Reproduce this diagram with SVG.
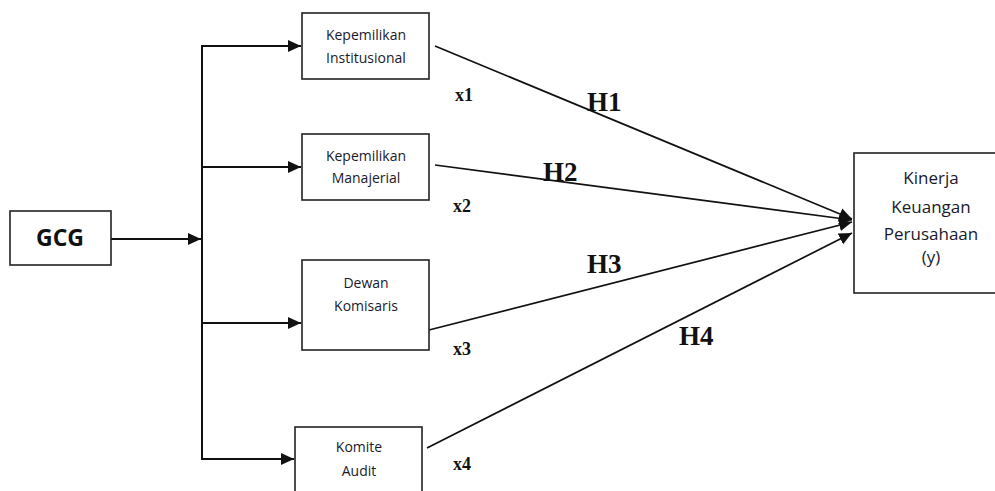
<svg xmlns="http://www.w3.org/2000/svg" width="995" height="491" viewBox="0 0 995 491">
<style>
.box{fill:#fff;stroke:#222;stroke-width:1.6}
.t{font-family:"Open Sans","Liberation Sans",sans-serif;font-size:14px;fill:#1a1a2a;text-anchor:middle}
.tb{font-family:"Open Sans","Liberation Sans",sans-serif;font-size:17px;fill:#1a1a2a;text-anchor:middle}
.g{font-family:"Open Sans","Liberation Sans",sans-serif;font-size:23px;font-weight:bold;fill:#111;text-anchor:middle}
.h{font-family:"Liberation Serif","Times New Roman",serif;font-size:27px;font-weight:bold;fill:#111}
.x{font-family:"Liberation Serif","Times New Roman",serif;font-size:18px;font-weight:bold;fill:#111}
.c{fill:none;stroke:#111;stroke-width:2}
.d{fill:none;stroke:#111;stroke-width:1.7}
</style>
<defs>
<marker id="ah" markerUnits="userSpaceOnUse" markerWidth="14" markerHeight="14" viewBox="0 0 14 14" refX="13" refY="7" orient="auto">
<path d="M0,1 L13,7 L0,13 Z" fill="#111"/>
</marker>
</defs>
<g id="connectors">
<line class="c" x1="111" y1="239" x2="201" y2="239" marker-end="url(#ah)"/>
<line class="c" x1="202" y1="45" x2="202" y2="460"/>
<line class="c" x1="201" y1="46" x2="301" y2="46" marker-end="url(#ah)"/>
<line class="c" x1="201" y1="167" x2="301" y2="167" marker-end="url(#ah)"/>
<line class="c" x1="201" y1="323" x2="301" y2="323" marker-end="url(#ah)"/>
<line class="c" x1="201" y1="459" x2="294" y2="459" marker-end="url(#ah)"/>
<line class="d" x1="435" y1="46" x2="852" y2="219" marker-end="url(#ah)"/>
<line class="d" x1="435" y1="165" x2="852" y2="220" marker-end="url(#ah)"/>
<line class="d" x1="429" y1="330" x2="852" y2="222" marker-end="url(#ah)"/>
<line class="d" x1="427" y1="448" x2="852" y2="233" marker-end="url(#ah)"/>
</g>
<g id="gcg">
<rect class="box" x="10" y="211" width="101" height="54"/>
<text class="g" x="60" y="246">GCG</text>
</g>
<g id="x1-node">
<rect class="box" x="302" y="13" width="127" height="66"/>
<text class="t" x="366" y="40">Kepemilikan</text>
<text class="t" x="366" y="63">Institusional</text>
</g>
<g id="x2-node">
<rect class="box" x="302" y="134" width="127" height="66"/>
<text class="t" x="366" y="161">Kepemilikan</text>
<text class="t" x="366" y="183">Manajerial</text>
</g>
<g id="x3-node">
<rect class="box" x="302" y="260" width="127" height="90"/>
<text class="t" x="366" y="288">Dewan</text>
<text class="t" x="366" y="311">Komisaris</text>
</g>
<g id="x4-node">
<rect class="box" x="295" y="427" width="127" height="80"/>
<text class="t" x="359" y="452">Komite</text>
<text class="t" x="359" y="476">Audit</text>
</g>
<g id="y-node">
<rect class="box" x="854" y="153" width="150" height="140"/>
<text class="tb" x="931" y="184">Kinerja</text>
<text class="tb" x="931" y="213">Keuangan</text>
<text class="tb" x="931" y="240">Perusahaan</text>
<text class="tb" x="931" y="263">(y)</text>
</g>
<g id="labels">
<text class="h" x="587" y="111">H1</text>
<text class="h" x="543" y="181">H2</text>
<text class="h" x="587" y="273">H3</text>
<text class="h" x="679" y="345">H4</text>
<text class="x" x="455" y="101">x1</text>
<text class="x" x="453" y="212">x2</text>
<text class="x" x="453" y="355">x3</text>
<text class="x" x="453" y="470">x4</text>
</g>
</svg>
